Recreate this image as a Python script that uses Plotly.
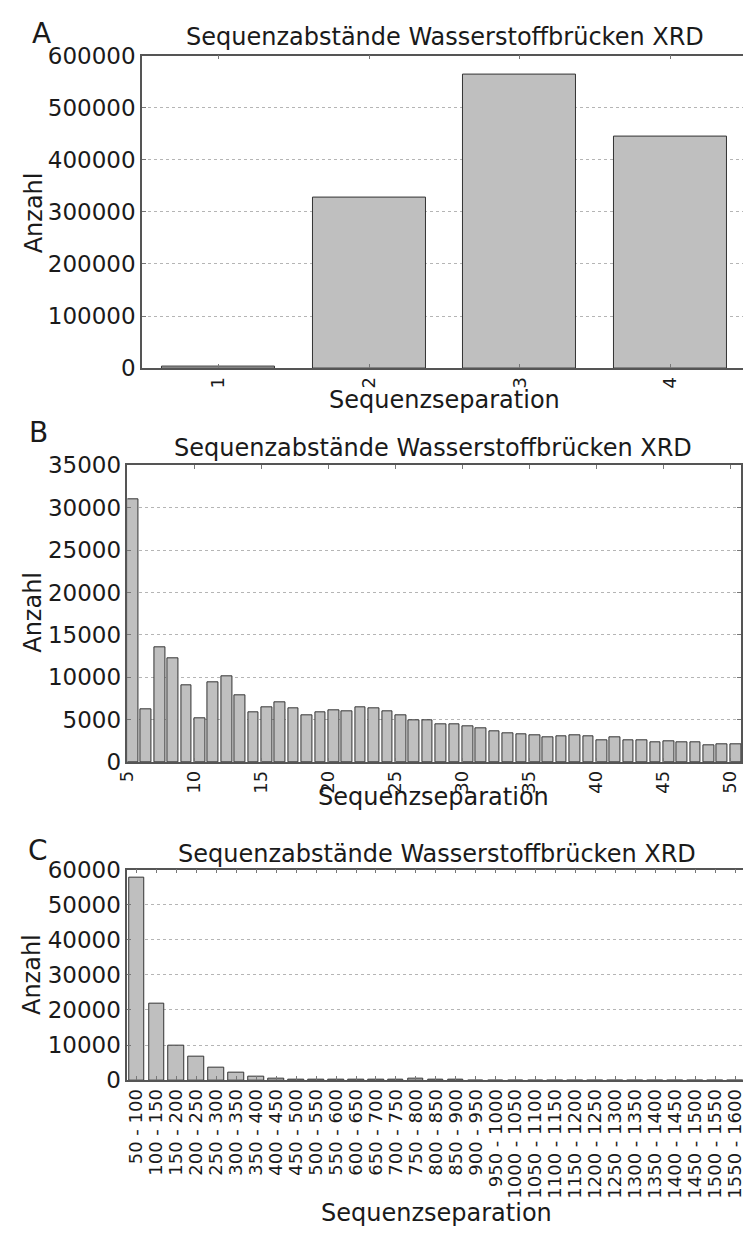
import plotly.graph_objects as go

# ---- data -------------------------------------------------------------
sep_a = [1, 2, 3, 4]
count_a = [2000, 328000, 564000, 444000]

sep_b = list(range(5, 51))
count_b = [31000, 6200, 13500, 12200, 9100, 5100, 9400, 10100, 7900, 5800,
           6400, 7000, 6300, 5550, 5800, 6100, 6000, 6500, 6300, 6000,
           5500, 4900, 4900, 4500, 4500, 4200, 4000, 3650, 3400, 3300,
           3200, 2900, 3000, 3200, 3000, 2600, 2900, 2600, 2600, 2300,
           2400, 2300, 2300, 2000, 2100, 2100]

bins_c = ["50 - 100", "100 - 150", "150 - 200", "200 - 250", "250 - 300",
          "300 - 350", "350 - 400", "400 - 450", "450 - 500", "500 - 550",
          "550 - 600", "600 - 650", "650 - 700", "700 - 750", "750 - 800",
          "800 - 850", "850 - 900", "900 - 950", "950 - 1000", "1000 - 1050",
          "1050 - 1100", "1100 - 1150", "1150 - 1200", "1200 - 1250",
          "1250 - 1300", "1300 - 1350", "1350 - 1400", "1400 - 1450",
          "1450 - 1500", "1500 - 1550", "1550 - 1600"]
count_c = [57800, 21700, 9900, 6700, 3700, 2100, 1000, 550, 250, 60,
           40, 20, 20, 20, 350, 10, 10, 0, 0, 0,
           0, 0, 0, 0, 0, 0, 0, 0, 0, 0, 0]

TITLE = "Sequenzabstände Wasserstoffbrücken XRD"
XLABEL = "Sequenzseparation"
YLABEL = "Anzahl"

# ---- styling ----------------------------------------------------------
W, H = 745, 1241
FONT = "DejaVu Sans"
TXT = "#1a1a1a"
SPINE = "#555555"
BAR_FILL = "#bfbfbf"
BAR_EDGE = "#333333"
GRID = "#b5b5b5"


def px_x(p):
    return p / W


def px_y(p):
    return 1 - p / H


bar_style = dict(color=BAR_FILL, line=dict(color=BAR_EDGE, width=1))

fig = go.Figure()
fig.add_trace(go.Bar(x=sep_a, y=count_a, width=0.75, marker=bar_style,
                     xaxis="x", yaxis="y", showlegend=False))
fig.add_trace(go.Bar(x=sep_b, y=count_b, width=0.8, offset=0, marker=bar_style,
                     xaxis="x2", yaxis="y2", showlegend=False))
fig.add_trace(go.Bar(x=list(range(len(bins_c))), y=count_c, width=0.78,
                     marker=bar_style, xaxis="x3", yaxis="y3", showlegend=False))


def xaxis(domain, anchor, rng, tickvals, ticktext=None, size=18):
    d = dict(domain=domain, anchor=anchor, range=rng, tickmode="array",
             tickvals=tickvals, tickangle=-90, showgrid=False, zeroline=False,
             showline=True, linecolor=SPINE, linewidth=1.5, mirror="ticks",
             ticks="inside", ticklen=4, tickcolor="#777777", tickwidth=1,
             ticklabeloverflow="allow",
             tickfont=dict(family=FONT, size=size, color=TXT))
    if ticktext is not None:
        d["ticktext"] = ticktext
    return d


def yaxis(domain, anchor, rng, dtick, mirror):
    return dict(domain=domain, anchor=anchor, range=rng, dtick=dtick,
                tickformat="d", showgrid=True, gridcolor=GRID, gridwidth=1,
                griddash="dot", zeroline=False, showline=True,
                linecolor=SPINE, linewidth=1.5, mirror=mirror,
                ticks="inside", ticklen=4, tickcolor="#777777", tickwidth=1,
                ticklabeloverflow="allow",
                tickfont=dict(family=FONT, size=23, color=TXT))


fig.update_layout(
    width=W, height=H, autosize=False,
    margin=dict(l=0, r=0, t=0, b=0),
    paper_bgcolor="white", plot_bgcolor="white",
    bargap=0,
    xaxis=xaxis([px_x(133.3), 1.0], "y", [0.494, 4.48], sep_a),
    yaxis=yaxis([px_y(362.7), px_y(43.5)], "x", [0, 600000], 100000, False),
    xaxis2=xaxis([px_x(118.5), px_x(743)], "y2", [5, 50.8],
                 list(range(5, 51, 5))),
    yaxis2=yaxis([px_y(765), px_y(462)], "x2", [0, 35000], 5000, "ticks"),
    xaxis3=xaxis([px_x(118.3), 1.0], "y3", [-0.47, 30.4],
                 list(range(len(bins_c))), bins_c),
    yaxis3=yaxis([px_y(1090), px_y(875)], "x3", [0, 60000], 10000, False),
)

# ---- panel titles, axis labels and panel letters ----------------------
notes = []
for letter, lx, ly, tx, ty, ax_y, ax_x, sx, sy in [
    ("A", 31, 21, 442, 25, 204, 23, 441, 395),
    ("B", 28, 428, 430, 444, 612, 23, 430, 801),
    ("C", 27, 855, 434, 859, 982, 22, 433, 1226),
]:
    notes.append(dict(text=letter, x=px_x(lx), y=px_y(ly), xref="paper",
                      yref="paper", xanchor="center", yanchor="middle",
                      showarrow=False, font=dict(family=FONT, size=28, color=TXT)))
    notes.append(dict(text=TITLE, x=px_x(tx), y=px_y(ty), xref="paper",
                      yref="paper", xanchor="center", yanchor="middle",
                      showarrow=False, font=dict(family=FONT, size=24, color=TXT)))
    notes.append(dict(text=YLABEL, x=px_x(ax_x), y=px_y(ax_y), xref="paper",
                      yref="paper", xanchor="center", yanchor="middle",
                      textangle=-90, showarrow=False,
                      font=dict(family=FONT, size=24, color=TXT)))
    notes.append(dict(text=XLABEL, x=px_x(sx), y=px_y(sy), xref="paper",
                      yref="paper", xanchor="center", yanchor="middle",
                      showarrow=False, font=dict(family=FONT, size=24, color=TXT)))
fig.update_layout(annotations=notes)

fig.write_html("out.html")
